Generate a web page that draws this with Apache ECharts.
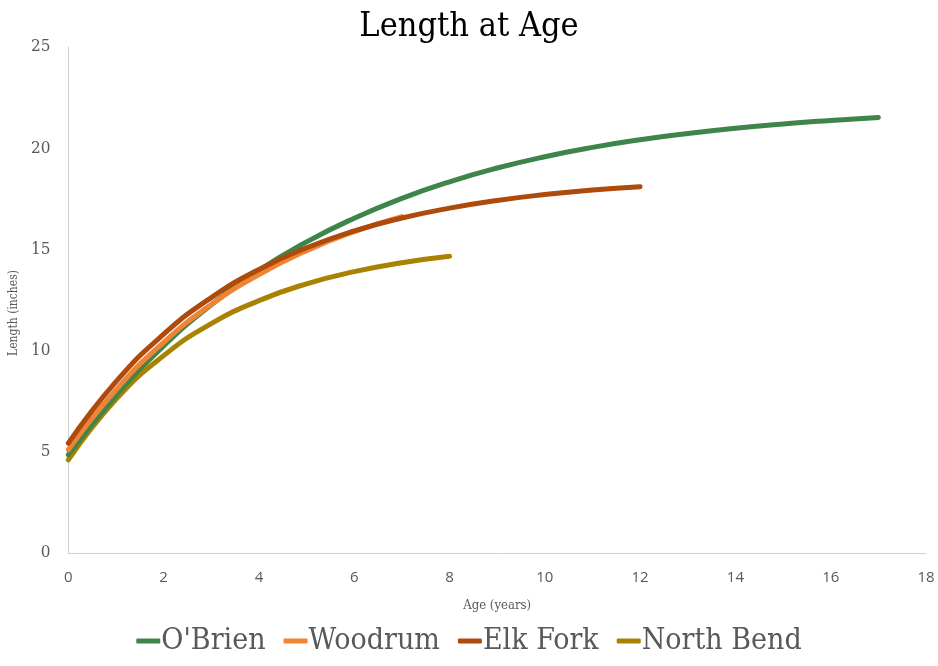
<!DOCTYPE html>
<html>
<head>
<meta charset="utf-8">
<script src="https://cdn.jsdelivr.net/npm/echarts@6/dist/echarts.min.js"></script>
<style>html,body{margin:0;padding:0;background:#fff}#c{width:938px;height:666px}</style>
</head>
<body>
<div id="c"></div>
<script>
var seriesNames = ["O'Brien", "Woodrum", "Elk Fork", "North Bend"];
var obrienAges = [0,1,2,3,4,5,6,7,8,9,10,11,12,13,14,15,16,17];
var obrienLen  = [4.85,7.78,10.23,12.26,13.96,15.37,16.54,17.52,18.34,19.02,19.58,20.04,20.42,20.73,20.99,21.2,21.37,21.52];
var woodrumAges = [0,1,2,3,4,5,6,7];
var woodrumLen  = [5.1,8.06,10.41,12.28,13.76,14.94,15.88,16.62];
var elkAges = [0,1,2,3,4,5,6,7,8,9,10,11,12];
var elkLen  = [5.43,8.47,10.81,12.62,14.01,15.08,15.91,16.55,17.04,17.42,17.71,17.94,18.1];
var northAges = [0,1,2,3,4,5,6,7,8];
var northLen  = [4.6,7.59,9.75,11.33,12.47,13.3,13.9,14.34,14.66];
var xTicks = [0,2,4,6,8,10,12,14,16,18];
var yTicks = [0,5,10,15,20,25];
var colors = ['#3D8549','#F08436','#AE4A0C','#A88200'];

function pairs(a,b){return a.map(function(v,i){return [v,b[i]];});}
var data = [pairs(obrienAges,obrienLen),pairs(woodrumAges,woodrumLen),pairs(elkAges,elkLen),pairs(northAges,northLen)];

var serif = "'DejaVu Serif Condensed', 'Liberation Serif', serif";
var chart = echarts.init(document.getElementById('c'));
chart.setOption({
  animation:false,
  color: colors,
  title:{text:'Length at Age', left:'center', top:5, textStyle:{fontFamily:serif, fontSize:34, fontWeight:'normal', color:'#000'}},
  grid:{left:67, right:12, top:47, bottom:113},
  legend:{bottom:5, left:'center', itemWidth:24, itemHeight:5, itemGap:18, icon:'roundRect',
    textStyle:{fontFamily:serif, fontSize:30, color:'#595959', padding:[0,0,0,-4]}, data:seriesNames},
  xAxis:{type:'value', min:0, max:18, interval:2, name:'Age (years)', nameLocation:'middle', nameGap:46,
    nameTextStyle:{fontFamily:serif, fontSize:13, color:'#595959'},
    axisLine:{lineStyle:{color:'#d0d0d0', width:1}}, axisTick:{show:false}, splitLine:{show:false},
    axisLabel:{fontFamily:"'Open Sans', sans-serif", fontSize:15, color:'#595959', margin:17}},
  yAxis:{type:'value', min:0, max:25, interval:5, name:'Length (inches)', nameLocation:'middle', nameGap:45,
    nameTextStyle:{fontFamily:serif, fontSize:12, color:'#595959', padding:[0,0,0,-26]},
    axisLine:{show:true, lineStyle:{color:'#d0d0d0', width:1}}, axisTick:{show:false}, splitLine:{show:false},
    axisLabel:{fontFamily:serif, fontSize:17, color:'#595959', margin:18}},
  series: seriesNames.map(function(n,i){
    return {name:n, type:'line', data:data[i], smooth:true, showSymbol:false,
      lineStyle:{width:5, color:colors[i], cap:'round'}, z: [2,3,4,1][i]};
  })
});
</script>
</body>
</html>
